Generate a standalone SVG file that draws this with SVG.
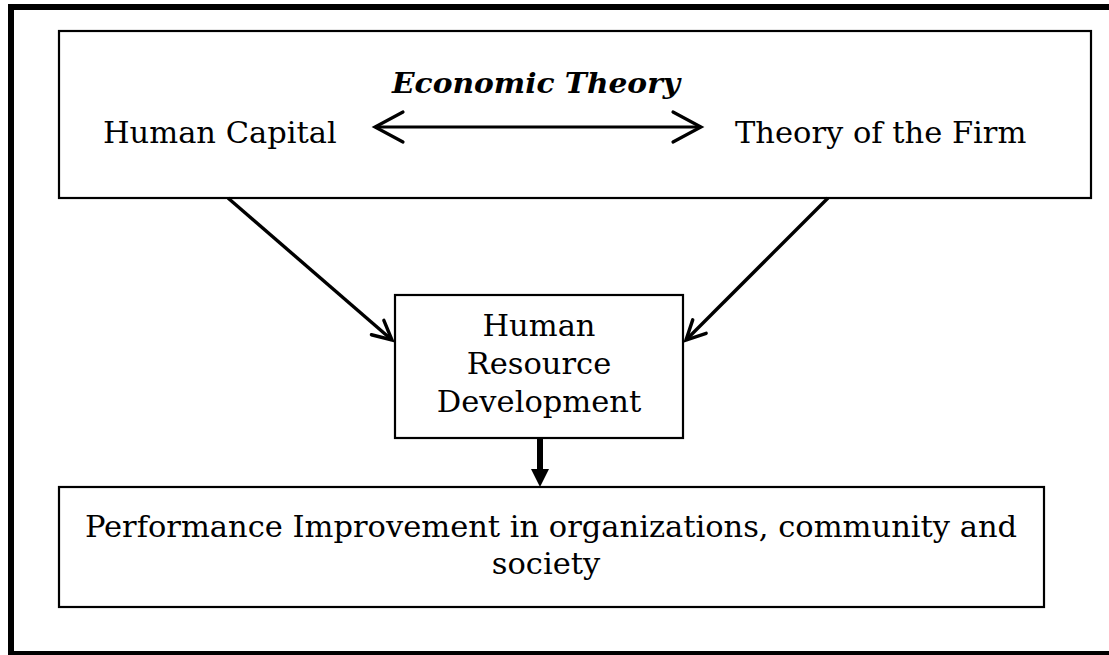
<svg xmlns="http://www.w3.org/2000/svg" width="1109" height="655" viewBox="0 0 1109 655">
<style>
  .box { fill: #ffffff; stroke: #000000; stroke-width: 2.2; }
  .lbl { font-family: "DejaVu Serif", "Liberation Serif", serif; font-size: 30.5px; fill: #000000; }
  .ttl { font-family: "DejaVu Serif", "Liberation Serif", serif; font-size: 28px; font-weight: bold; font-style: italic; fill: #000000; }
  .conn { stroke: #000000; fill: none; }
</style>
<defs>
  <marker id="chevBig" markerUnits="userSpaceOnUse" markerWidth="40" markerHeight="40" refX="0" refY="0" viewBox="-35 -20 40 40" orient="auto-start-reverse" overflow="visible">
    <path d="M-28,-15 L0,0 L-28,15" fill="none" stroke="#000" stroke-width="3.2" stroke-linecap="round" stroke-linejoin="miter"/>
  </marker>
  <marker id="chev" markerUnits="userSpaceOnUse" markerWidth="30" markerHeight="30" refX="0" refY="0" viewBox="-25 -15 30 30" orient="auto" overflow="visible">
    <path d="M-19,-9.5 L0,0 L-19,9.5" fill="none" stroke="#000" stroke-width="3.4" stroke-linecap="round" stroke-linejoin="miter"/>
  </marker>
</defs>
<rect x="0" y="0" width="1109" height="655" fill="#ffffff"/>
<g id="frame">
  <path d="M1115,7 H11 V654 H1115" fill="none" stroke="#000" stroke-width="6"/>
</g>
<g id="economic-theory">
  <rect class="box" x="59" y="31" width="1032" height="167"/>
  <text class="ttl" x="392" y="93" textLength="288" lengthAdjust="spacingAndGlyphs">Economic Theory</text>
  <text class="lbl" x="103" y="143">Human Capital</text>
  <text class="lbl" x="735" y="143">Theory of the Firm</text>
</g>
<g id="hrd">
  <rect class="box" x="395" y="295" width="288" height="143"/>
  <text class="lbl" x="539" y="336" text-anchor="middle">Human</text>
  <text class="lbl" x="539" y="374" text-anchor="middle">Resource</text>
  <text class="lbl" x="539" y="412" text-anchor="middle">Development</text>
</g>
<g id="performance">
  <rect class="box" x="59" y="487" width="985" height="120"/>
  <text class="lbl" x="551" y="537" text-anchor="middle">Performance Improvement in organizations, community and</text>
  <text class="lbl" x="546" y="574" text-anchor="middle">society</text>
</g>
<g id="connectors">
  <line class="conn" x1="375" y1="127" x2="701" y2="127" stroke-width="3.2" marker-start="url(#chevBig)" marker-end="url(#chevBig)"/>
  <line class="conn" x1="228" y1="198" x2="392" y2="340" stroke-width="3.4" marker-end="url(#chev)"/>
  <line class="conn" x1="828" y1="198" x2="686" y2="340" stroke-width="3.4" marker-end="url(#chev)"/>
  <line class="conn" x1="540" y1="438" x2="540" y2="470" stroke-width="6"/>
  <polygon points="531,469 549,469 540,487" fill="#000"/>
</g>
</svg>
